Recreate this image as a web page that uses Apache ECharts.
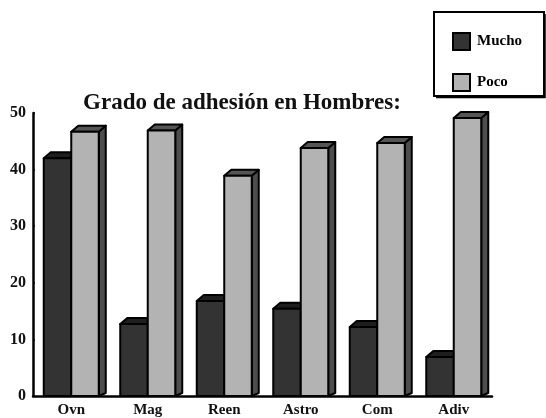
<!DOCTYPE html>
<html><head><meta charset="utf-8">
<script src="https://cdn.jsdelivr.net/npm/echarts@6/dist/echarts.min.js"></script>
<style>html,body{margin:0;padding:0;background:#fff}#c{width:546px;height:418px}</style>
</head><body><div id="c"></div>
<script>
const categories = ['Ovn', 'Mag', 'Reen', 'Astro', 'Com', 'Adiv'];
const mucho = [42, 12.7, 16.8, 15.4, 12.2, 6.9];
const poco = [46.7, 46.9, 38.9, 43.8, 44.7, 49.1];
const yTicks = [0, 10, 20, 30, 40, 50];

const FONT = '"Liberation Serif", "DejaVu Serif", serif';
const chart = echarts.init(document.getElementById('c'));

function makeRender(offset, front, top, side) {
  return function (params, api) {
    const i = api.value(0), v = api.value(1);
    const c = api.coord([i, v]);
    const b = api.coord([i, 0]);
    const bw = 27.5, dx = 7, dy = -6;
    const x0 = c[0] + offset * bw, x1 = x0 + bw;
    const yt = c[1], yb = b[1];
    const st = { stroke: '#000', lineWidth: 2, lineJoin: 'round' };
    return {
      type: 'group',
      children: [
        { type: 'polygon', shape: { points: [[x1, yt], [x1 + dx, yt + dy], [x1 + dx, yb + dy + 3], [x1, yb]] }, style: Object.assign({ fill: side }, st) },
        { type: 'polygon', shape: { points: [[x0, yt], [x1, yt], [x1 + dx, yt + dy], [x0 + dx, yt + dy]] }, style: Object.assign({ fill: top }, st) },
        { type: 'rect', shape: { x: x0, y: yt, width: bw, height: yb - yt }, style: Object.assign({ fill: front }, st) }
      ]
    };
  };
}

chart.setOption({
  animation: false,
  title: {
    text: 'Grado de adhesión en Hombres:',
    left: 237, top: 87, textAlign: 'center',
    textStyle: { fontFamily: FONT, fontWeight: 'bold', fontSize: 23, color: '#111' }
  },
  legend: {
    orient: 'vertical', left: 447, top: 27, itemWidth: 17, itemHeight: 17, itemGap: 22,
    icon: 'rect',
    textStyle: { fontFamily: FONT, fontWeight: 'bold', fontSize: 15, color: '#000', padding: [0, 0, 0, 2] },
    data: [
      { name: 'Mucho', itemStyle: { color: '#333333', borderColor: '#000', borderWidth: 2 } },
      { name: 'Poco', itemStyle: { color: '#b3b3b3', borderColor: '#000', borderWidth: 2 } }
    ]
  },
  graphic: [
    { type: 'rect', shape: { x: 434, y: 12, width: 110, height: 84 }, style: { fill: 'none', stroke: '#000', lineWidth: 2 }, z: 10 },
    { type: 'polyline', shape: { points: [[436, 97.5], [545, 97.5], [545, 14]] }, style: { fill: 'none', stroke: '#000', lineWidth: 1.5 }, z: 10 }
  ],
  grid: { left: 33, right: 54, top: 113, bottom: 22, containLabel: false },
  xAxis: {
    type: 'category', data: categories,
    axisLine: { lineStyle: { color: '#000', width: 2.5 } },
    axisTick: { show: false },
    axisLabel: { fontFamily: FONT, fontWeight: 'bold', fontSize: 15, color: '#111', margin: 7 }
  },
  yAxis: {
    type: 'value', min: 0, max: 50, interval: 10,
    axisLine: { show: true, lineStyle: { color: '#000', width: 2.5 } },
    axisTick: { show: true, inside: true, length: 2, lineStyle: { color: '#000', width: 1.5 } },
    splitLine: { show: false },
    axisLabel: {
      fontFamily: FONT, fontWeight: 'bold', fontSize: 16, color: '#111', margin: 7,
      formatter: v => yTicks.includes(v) ? String(v) : ''
    }
  },
  series: [
    {
      name: 'Mucho', type: 'custom', renderItem: makeRender(-1, '#333333', '#1e1e1e', '#222'),
      itemStyle: { color: '#333333' },
      data: mucho.map((v, i) => [i, v]), encode: { x: 0, y: 1 }
    },
    {
      name: 'Poco', type: 'custom', renderItem: makeRender(0, '#b3b3b3', '#555555', '#4d4d4d'),
      itemStyle: { color: '#b3b3b3' },
      data: poco.map((v, i) => [i, v]), encode: { x: 0, y: 1 }
    }
  ]
});
</script></body></html>
